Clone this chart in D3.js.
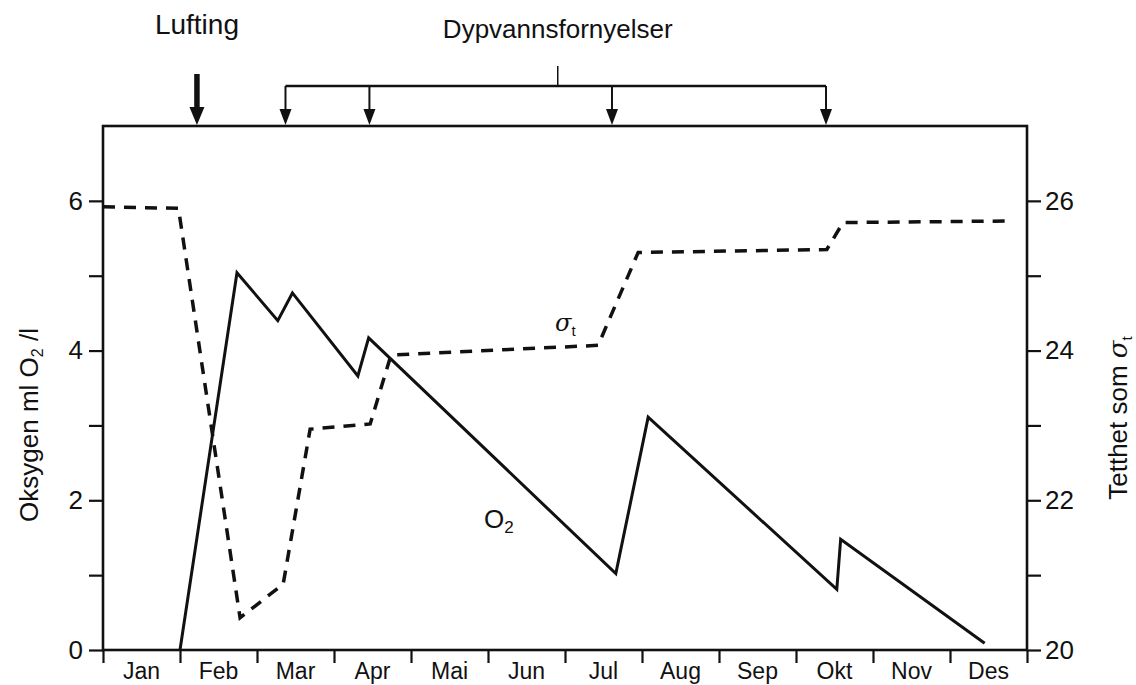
<!DOCTYPE html>
<html><head><meta charset="utf-8">
<script src="https://cdn.jsdelivr.net/npm/d3@7"></script>
<style>
body{margin:0;background:#fff}
text{font-family:"Liberation Sans",Arial,sans-serif;fill:#111}
</style>
</head><body>
<svg id="c" width="1136" height="685"></svg>
<script>
// ---- data ----
const months = ["Jan","Feb","Mar","Apr","Mai","Jun","Jul","Aug","Sep","Okt","Nov","Des"];
// oxygen (ml O2/l), x in months from 1 Jan
const o2Month = [1.0, 1.74, 2.27, 2.46, 3.31, 3.45, 6.66, 7.08, 9.53, 9.58, 11.45];
const o2Value = [0, 5.04, 4.40, 4.77, 3.66, 4.17, 1.02, 3.11, 0.81, 1.48, 0.09];
// density sigma-t
const sigmaMonth = [0, 0.98, 1.78, 2.34, 2.69, 3.47, 3.74, 6.43, 6.95, 9.40, 9.61, 11.71];
const sigmaValue = [25.92, 25.90, 20.43, 20.88, 22.95, 23.02, 23.94, 24.07, 25.31, 25.35, 25.71, 25.73];
const leftTicks = [0, 1, 2, 3, 4, 5, 6];
const leftLabels = [0, 2, 4, 6];
const rightTicks = [20, 21, 22, 23, 24, 25, 26];
const rightLabels = [20, 22, 24, 26];
const aerationMonth = [1.22];                 // Lufting
const renewalMonths = [2.37, 3.46, 6.61, 9.39]; // Dypvannsfornyelser

// ---- layout ----
const svg = d3.select("#c");
const L = 103, R = 1027, B = 650, T = 126;
const x = d3.scaleLinear().domain([0, 12]).range([L, R]);
const yL = d3.scaleLinear().domain([0, 7]).range([B, T]);
const yR = d3.scaleLinear().domain([20, 27]).range([B, T]);
const ink = "#111";

svg.append("rect").attr("width", 1136).attr("height", 685).attr("fill", "#fff");

// axes
const gl = svg.append("g").attr("transform", `translate(${L},0)`)
  .call(d3.axisLeft(yL).tickValues(leftTicks).tickSize(14).tickPadding(6)
    .tickFormat(d => leftLabels.includes(d) ? d : ""));
const gr = svg.append("g").attr("transform", `translate(${R},0)`)
  .call(d3.axisRight(yR).tickValues(rightTicks).tickSize(14).tickPadding(4)
    .tickFormat(d => rightLabels.includes(d) ? d : ""));
const gb = svg.append("g").attr("transform", `translate(0,${B})`)
  .call(d3.axisBottom(x).tickValues(d3.range(0, 13)).tickSize(13).tickFormat(""));
[gl, gr, gb].forEach(g => {
  g.select(".domain").remove();
  g.selectAll(".tick line").attr("stroke", ink).attr("stroke-width", 2.2);
  g.selectAll(".tick text").attr("fill", ink).style("font-size", "26px")
    .style("font-family", '"Liberation Sans",Arial,sans-serif');
});

// frame
svg.append("rect").attr("x", L).attr("y", T).attr("width", R - L).attr("height", B - T)
  .attr("fill", "none").attr("stroke", ink).attr("stroke-width", 2.6);

// month labels
svg.append("g").selectAll("text").data(months).join("text")
  .attr("x", (d, i) => x(i + 0.5)).attr("y", 679)
  .attr("text-anchor", "middle").style("font-size", "23px").text(d => d);

// lines
const o2 = o2Month.map((m, i) => [m, o2Value[i]]);
const sig = sigmaMonth.map((m, i) => [m, sigmaValue[i]]);
svg.append("path").datum(o2)
  .attr("d", d3.line().x(d => x(d[0])).y(d => yL(d[1])))
  .attr("fill", "none").attr("stroke", ink).attr("stroke-width", 3).attr("stroke-linejoin", "miter");
svg.append("path").datum(sig)
  .attr("d", d3.line().x(d => x(d[0])).y(d => yR(d[1])))
  .attr("fill", "none").attr("stroke", ink).attr("stroke-width", 3.5)
  .attr("stroke-dasharray", "12,9");

// in-plot labels
const s1 = svg.append("text").attr("x", 555).attr("y", 331).style("font-size", "24px");
s1.append("tspan").style("font-style", "italic").style("font-family", '"DejaVu Serif",serif').text("σ");
s1.append("tspan").attr("dy", 5).style("font-size", "15px").text("t");
const o2t = svg.append("text").attr("x", 484).attr("y", 528).style("font-size", "26px");
o2t.append("tspan").text("O");
o2t.append("tspan").attr("dy", 5).style("font-size", "17px").text("2");

// axis titles
const lt = svg.append("text").attr("transform", "translate(38,425) rotate(-90)")
  .attr("text-anchor", "middle").style("font-size", "26px");
lt.append("tspan").text("Oksygen ml O");
lt.append("tspan").attr("dy", 5).style("font-size", "16px").text("2");
lt.append("tspan").attr("dy", -5).text(" /l");
const rt = svg.append("text").attr("transform", "translate(1127,418) rotate(-90)")
  .attr("text-anchor", "middle").style("font-size", "26px");
rt.append("tspan").text("Tetthet som  ");
rt.append("tspan").style("font-style", "italic").style("font-family", '"DejaVu Serif",serif').text("σ");
rt.append("tspan").attr("dy", 5).style("font-size", "15px").text("t");

// top annotations
function arrowHead(cx, tip, w, h) {
  svg.append("path").attr("d", `M${cx - w / 2},${tip - h} L${cx + w / 2},${tip - h} L${cx},${tip} Z`)
    .attr("fill", ink);
}
aerationMonth.forEach(m => {
  const cx = x(m);
  svg.append("line").attr("x1", cx).attr("x2", cx).attr("y1", 74).attr("y2", T - 14)
    .attr("stroke", ink).attr("stroke-width", 5.5);
  arrowHead(cx, T - 1, 15, 18);
});
svg.append("text").attr("x", x(aerationMonth[0])).attr("y", 34).attr("text-anchor", "middle")
  .style("font-size", "28px").text("Lufting");

const by = 86;
const bx0 = x(d3.min(renewalMonths)), bx1 = x(d3.max(renewalMonths));
svg.append("line").attr("x1", bx0).attr("x2", bx1).attr("y1", by).attr("y2", by)
  .attr("stroke", ink).attr("stroke-width", 2.6);
const mid = (bx0 + bx1) / 2 + 2;
svg.append("line").attr("x1", mid).attr("x2", mid).attr("y1", 66).attr("y2", by)
  .attr("stroke", ink).attr("stroke-width", 1.5);
renewalMonths.forEach(m => {
  const cx = x(m);
  svg.append("line").attr("x1", cx).attr("x2", cx).attr("y1", by).attr("y2", T - 12)
    .attr("stroke", ink).attr("stroke-width", 2);
  arrowHead(cx, T - 1, 12, 16);
});
svg.append("text").attr("x", mid).attr("y", 38).attr("text-anchor", "middle")
  .style("font-size", "26px").text("Dypvannsfornyelser");
</script>
</body></html>
